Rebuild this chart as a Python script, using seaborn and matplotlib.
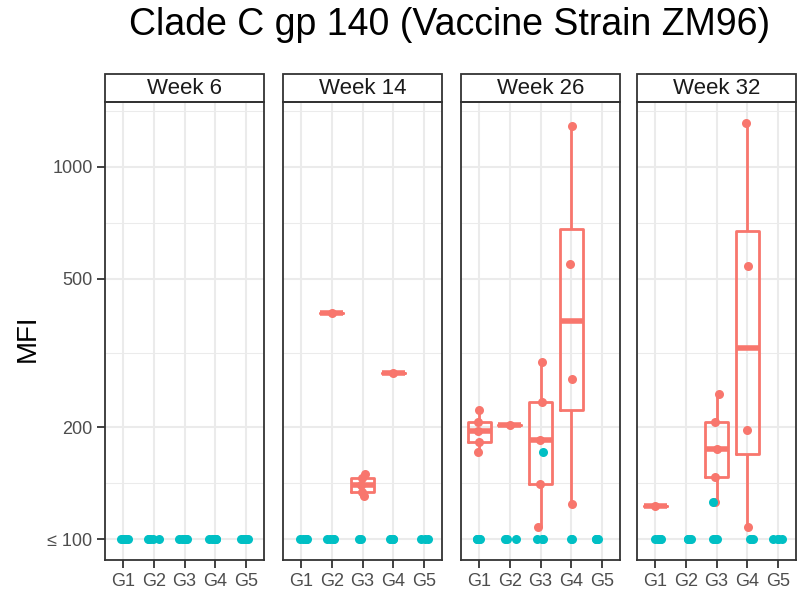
import numpy as np
import pandas as pd
import seaborn as sns
import matplotlib.pyplot as plt
from matplotlib.patches import Rectangle
from matplotlib.ticker import NullFormatter

groups = ["G1", "G2", "G3", "G4", "G5"]
weeks = ["Week 6", "Week 14", "Week 26", "Week 32"]

# responders (red) per week: group labels and MFI values
w6_pos_grp = []
w6_pos_mfi = []
w14_pos_grp = ["G2", "G3", "G3", "G3", "G3", "G3", "G4"]
w14_pos_mfi = [406, 131, 134, 140, 146, 150, 280]
w26_pos_grp = ["G1", "G1", "G1", "G1", "G1", "G2", "G3", "G3", "G3", "G3", "G3", "G4", "G4", "G4", "G4"]
w26_pos_mfi = [171, 182, 195, 207, 222, 202, 108, 141, 185, 233, 300, 124, 270, 550, 1289]
w32_pos_grp = ["G1", "G3", "G3", "G3", "G3", "G3", "G4", "G4", "G4", "G4"]
w32_pos_mfi = [123, 126, 147, 175, 207, 245, 108, 197, 540, 1313]

# non responders (teal): count at the <=100 floor per group, plus a few extra values
w6_neg_n = [5, 5, 5, 5, 5]
w14_neg_n = [5, 4, 2, 4, 3]
w26_neg_n = [4, 3, 3, 2, 4]
w32_neg_n = [5, 4, 3, 3, 4]
w26_neg_extra_grp = ["G3"]
w26_neg_extra_mfi = [171]
w32_neg_extra_grp = ["G3"]
w32_neg_extra_mfi = [126]

pos_grp = [w6_pos_grp, w14_pos_grp, w26_pos_grp, w32_pos_grp]
pos_mfi = [w6_pos_mfi, w14_pos_mfi, w26_pos_mfi, w32_pos_mfi]
neg_n = [w6_neg_n, w14_neg_n, w26_neg_n, w32_neg_n]
neg_extra_grp = [[], [], w26_neg_extra_grp, w32_neg_extra_grp]
neg_extra_mfi = [[], [], w26_neg_extra_mfi, w32_neg_extra_mfi]

RED = "#F8766D"
TEAL = "#00BFC4"

rows = []
for i, wk in enumerate(weeks):
    for g, v in zip(pos_grp[i], pos_mfi[i]):
        rows.append((wk, g, v, "pos"))
    for g, n in zip(groups, neg_n[i]):
        for _ in range(n):
            rows.append((wk, g, 100, "neg"))
    for g, v in zip(neg_extra_grp[i], neg_extra_mfi[i]):
        rows.append((wk, g, v, "neg"))
df = pd.DataFrame(rows, columns=["week", "group", "MFI", "status"])

# y limits: 5% expansion in log space like ggplot
lo, hi = np.log10(df["MFI"].min()), np.log10(df["MFI"].max())
pad = (hi - lo) * 0.05
ylim = (10 ** (lo - pad), 10 ** (hi + pad))

sns.set_theme(style="white")
plt.rcParams["font.family"] = ["Liberation Sans", "DejaVu Sans"]

fig = plt.figure(figsize=(8, 5.91), dpi=100)
W, H = 800, 591
lefts = [105, 283, 461, 637]
pw = 159
top, bottom = 102, 560
np.random.seed(3)

for i, wk in enumerate(weeks):
    ax = fig.add_axes([lefts[i] / W, (H - bottom) / H, pw / W, (bottom - top) / H])
    d = df[df["week"] == wk]
    dp = d[d["status"] == "pos"]
    dn = d[d["status"] == "neg"]
    if len(dp):
        sns.boxplot(data=dp, x="group", y="MFI", order=groups, ax=ax, log_scale=True,
                    fill=False, color=RED, linecolor=RED, linewidth=2.0, width=0.75,
                    showcaps=False, showfliers=False,
                    boxprops=dict(linewidth=2.0), whiskerprops=dict(linewidth=2.0),
                    medianprops=dict(linewidth=4, color=RED))
        sns.stripplot(data=dp, x="group", y="MFI", order=groups, color=RED,
                      jitter=0.08, size=6.5, linewidth=0, ax=ax, log_scale=True,
                      zorder=3)
    sns.stripplot(data=dn, x="group", y="MFI", order=groups, color=TEAL,
                  jitter=0.2, size=6.5, linewidth=0, ax=ax, log_scale=True,
                  zorder=3)
    ax.set_yscale("log")
    ax.set_ylim(ylim)
    ax.set_xlim(-0.6, 4.6)
    ax.set_yticks([100, 200, 500, 1000])
    ax.set_yticks([141.4, 316.2, 707.1, 1414.2], minor=True)
    ax.yaxis.set_minor_formatter(NullFormatter())
    ax.grid(True, which="major", color="#EBEBEB", linewidth=1.5, zorder=0)
    ax.grid(True, which="minor", axis="y", color="#EBEBEB", linewidth=0.75, zorder=0)
    ax.set_axisbelow(True)
    ax.set_xlabel("")
    ax.set_ylabel("")
    ax.tick_params(axis="x", which="major", length=6, width=1.3, color="#333333",
                   labelsize=13, labelcolor="#4D4D4D", pad=3, bottom=True)
    ax.tick_params(axis="y", which="minor", length=0)
    if i == 0:
        ax.set_yticklabels(["≤ 100", "200", "500", "1000"])
        ax.tick_params(axis="y", which="major", length=6, width=1.3, color="#333333",
                       labelsize=13, labelcolor="#4D4D4D", pad=3, left=True)
    else:
        ax.tick_params(axis="y", which="major", left=False, labelleft=False)
    for s in ax.spines.values():
        s.set_color("#333333")
        s.set_linewidth(1.3)
    # facet strip
    sh = 28 / (bottom - top)
    ax.add_patch(Rectangle((0, 1), 1, sh, transform=ax.transAxes, facecolor="white",
                           edgecolor="#333333", linewidth=1.3, clip_on=False))
    ax.text(0.5, 1 + sh / 2, wk, transform=ax.transAxes, ha="center", va="center",
            fontsize=16, color="#1A1A1A")

fig.text(450 / W, 1 - 7 / H, "Clade C gp 140 (Vaccine Strain ZM96)", ha="center",
         va="top", fontsize=27, color="black")
fig.text(28 / W, (H - 338) / H, "MFI", rotation=90, ha="center", va="center",
         fontsize=20, color="black")

fig.savefig("out.png", dpi=100)
